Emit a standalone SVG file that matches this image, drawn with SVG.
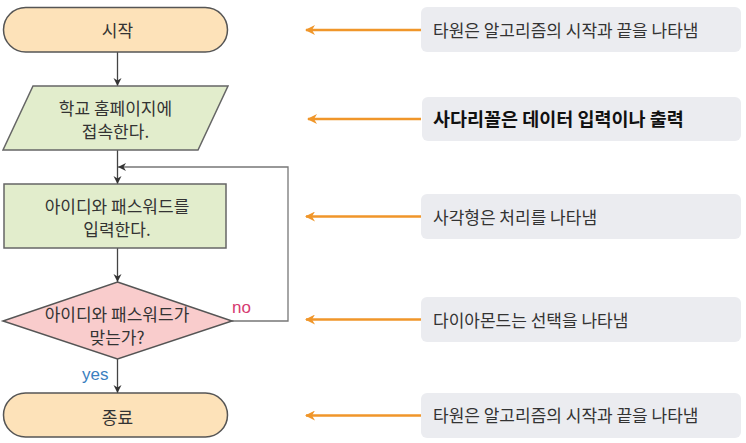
<svg xmlns="http://www.w3.org/2000/svg" width="746" height="443" viewBox="0 0 746 443">
<defs>
<style>
.term{fill:#fde2b9;stroke:#555;stroke-width:1.5}
.io{fill:#e2edcc;stroke:#666;stroke-width:1.5}
.proc{fill:#e2edcc;stroke:#666;stroke-width:1.5}
.dec{fill:#f9cccc;stroke:#555;stroke-width:1.5}
.note{fill:#ebecf0}
.flow{fill:none;stroke:#444;stroke-width:1.3}
.loop{fill:none;stroke:#777;stroke-width:1.3}
.ptr{fill:none;stroke:#f0962a;stroke-width:2.4}
.t{font-family:"Noto Sans CJK KR","Noto Sans",sans-serif;font-size:17px;fill:#333;text-anchor:middle}
.n{font-family:"Noto Sans CJK KR","Noto Sans",sans-serif;font-size:17px;fill:#333}
.nb{font-family:"Noto Sans CJK KR","Noto Sans",sans-serif;font-size:18.5px;font-weight:bold;fill:#111}
.lbl{font-family:"Liberation Sans",Arial,sans-serif;font-size:17px}
</style>
<marker id="ah" viewBox="0 0 10 10" refX="10" refY="5" markerWidth="8" markerHeight="9" markerUnits="userSpaceOnUse" orient="auto">
<path d="M0,0 L10,5 L0,10 L3,5 Z" fill="#333"/>
</marker>
<marker id="oh" viewBox="0 0 10 10" refX="9" refY="5" markerWidth="11" markerHeight="10" markerUnits="userSpaceOnUse" orient="auto">
<path d="M0,0 L10,5 L0,10 L3,5 Z" fill="#f0962a"/>
</marker>
</defs>
<rect width="746" height="443" fill="#fff"/>

<g id="connectors">
<line class="flow" x1="117.5" y1="52" x2="117.5" y2="86" marker-end="url(#ah)"/>
<line class="flow" x1="117.5" y1="150" x2="117.5" y2="184" marker-end="url(#ah)"/>
<line class="flow" x1="117.5" y1="248" x2="117.5" y2="282" marker-end="url(#ah)"/>
<line class="flow" x1="117.5" y1="359" x2="117.5" y2="393" marker-end="url(#ah)"/>
<polyline class="loop" points="232,321 288,321 288,167 118,167" marker-end="url(#ah)"/>
<text class="lbl" x="232" y="313" fill="#d63a70">no</text>
<text class="lbl" x="82" y="380" fill="#3a80c0">yes</text>
<line class="ptr" x1="421" y1="30" x2="306" y2="30" marker-end="url(#oh)"/>
<line class="ptr" x1="421" y1="119" x2="308" y2="119" marker-end="url(#oh)"/>
<line class="ptr" x1="421" y1="216.5" x2="306" y2="216.5" marker-end="url(#oh)"/>
<line class="ptr" x1="421" y1="319.5" x2="306" y2="319.5" marker-end="url(#oh)"/>
<line class="ptr" x1="421" y1="415.5" x2="306" y2="415.5" marker-end="url(#oh)"/>
</g>

<g id="start">
<rect class="term" x="3.5" y="7.5" width="224" height="44.5" rx="22.25"/>
<text class="t" x="117.5" y="37">시작</text>
</g>
<g id="input">
<polygon class="io" points="33,86 228,86 198,150 3,150"/>
<text class="t" x="115.5" y="115">학교 홈페이지에</text>
<text class="t" x="115.5" y="138">접속한다.</text>
</g>
<g id="process">
<rect class="proc" x="4" y="184" width="222" height="64"/>
<text class="t" x="117" y="212.5">아이디와 패스워드를</text>
<text class="t" x="117" y="235.5">입력한다.</text>
</g>
<g id="decision">
<polygon class="dec" points="117.5,282 232,321 117.5,359 3,321"/>
<text class="t" x="117" y="321">아이디와 패스워드가</text>
<text class="t" x="117" y="344">맞는가?</text>
</g>
<g id="end">
<rect class="term" x="3.5" y="393" width="224" height="44" rx="22"/>
<text class="t" x="117.5" y="424">종료</text>
</g>

<g id="note1">
<rect class="note" x="421" y="7" width="320" height="45" rx="6"/>
<text class="n" x="433" y="36.5">타원은 알고리즘의 시작과 끝을 나타냄</text>
</g>
<g id="note2">
<rect class="note" x="422" y="97" width="319" height="44" rx="6"/>
<text class="nb" x="433" y="126">사다리꼴은 데이터 입력이나 출력</text>
</g>
<g id="note3">
<rect class="note" x="421" y="194" width="320" height="45" rx="6"/>
<text class="n" x="433" y="223.5">사각형은 처리를 나타냄</text>
</g>
<g id="note4">
<rect class="note" x="421" y="297" width="320" height="45" rx="6"/>
<text class="n" x="433" y="326.5">다이아몬드는 선택을 나타냄</text>
</g>
<g id="note5">
<rect class="note" x="421" y="393" width="320" height="45" rx="6"/>
<text class="n" x="433" y="421.5">타원은 알고리즘의 시작과 끝을 나타냄</text>
</g>
</svg>
